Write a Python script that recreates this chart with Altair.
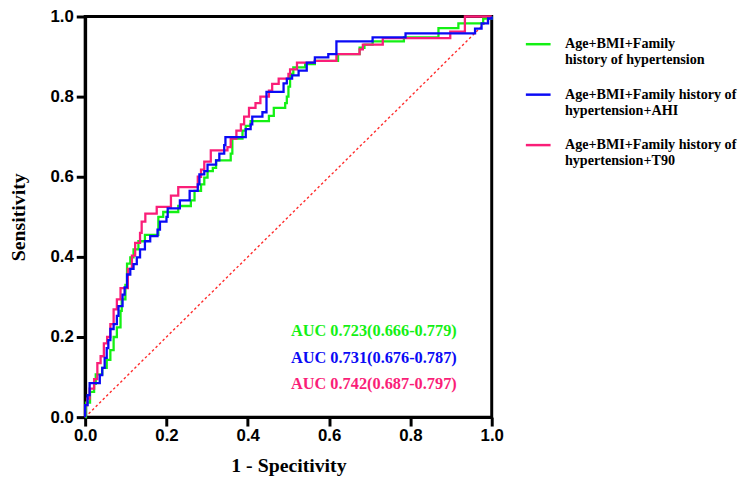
import altair as alt
import pandas as pd

# ---- data -------------------------------------------------------------
models = [
    "Age+BMI+Family|history of hypertension",
    "Age+BMI+Family history of|hypertension+AHI",
    "Age+BMI+Family history of|hypertension+T90",
]
colors = ["#14F014", "#0A0AF5", "#FA1E78"]
auc_labels = [
    "AUC 0.723(0.666-0.779)",
    "AUC 0.731(0.676-0.787)",
    "AUC 0.742(0.687-0.797)",
]

green_fpr = [0, 0.002, 0.012, 0.022, 0.026, 0.042, 0.053, 0.062, 0.070, 0.078, 0.087, 0.090,
             0.099, 0.103, 0.111, 0.119, 0.131, 0.147, 0.180, 0.192, 0.229, 0.260, 0.269, 0.285,
             0.293, 0.301, 0.314, 0.322, 0.358, 0.362, 0.387, 0.395, 0.407, 0.452, 0.464, 0.492,
             0.496, 0.500, 0.504, 0.512, 0.541, 0.565, 0.622, 0.675, 0.687, 0.707, 0.784, 0.869,
             0.918, 0.979, 1.0]
green_tpr = [0, 0.036, 0.063, 0.083, 0.107, 0.123, 0.143, 0.167, 0.200, 0.224, 0.265, 0.294,
             0.330, 0.383, 0.399, 0.419, 0.439, 0.455, 0.500, 0.512, 0.527, 0.541, 0.565, 0.581,
             0.598, 0.614, 0.622, 0.641, 0.658, 0.695, 0.715, 0.727, 0.739, 0.752, 0.772, 0.784,
             0.800, 0.825, 0.857, 0.873, 0.881, 0.889, 0.906, 0.922, 0.930, 0.938, 0.948, 0.971,
             0.983, 0.995, 1.0]

blue_fpr = [0, 0, 0.006, 0.011, 0.036, 0.042, 0.048, 0.053, 0.057, 0.062, 0.070, 0.078, 0.082,
            0.092, 0.097, 0.103, 0.111, 0.119, 0.127, 0.135, 0.147, 0.160, 0.178, 0.184, 0.200,
            0.203, 0.233, 0.257, 0.277, 0.281, 0.293, 0.301, 0.322, 0.330, 0.342, 0.345, 0.395,
            0.407, 0.411, 0.436, 0.446, 0.488, 0.496, 0.509, 0.525, 0.545, 0.565, 0.598, 0.618,
            0.707, 0.788, 0.959, 0.975, 0.991, 1.0]
blue_tpr = [0, 0.030, 0.055, 0.085, 0.105, 0.123, 0.148, 0.172, 0.192, 0.220, 0.232, 0.253, 0.277,
            0.306, 0.324, 0.356, 0.370, 0.382, 0.399, 0.419, 0.439, 0.452, 0.468, 0.488, 0.500,
            0.521, 0.541, 0.565, 0.581, 0.606, 0.614, 0.630, 0.641, 0.658, 0.679, 0.699, 0.719,
            0.731, 0.750, 0.761, 0.812, 0.833, 0.845, 0.853, 0.865, 0.885, 0.898, 0.906, 0.938,
            0.948, 0.958, 0.970, 0.983, 0.995, 1.0]

pink_fpr = [0, 0, 0.005, 0.011, 0.022, 0.030, 0.038, 0.046, 0.054, 0.062, 0.070, 0.078, 0.087,
            0.105, 0.115, 0.123, 0.135, 0.139, 0.148, 0.176, 0.211, 0.229, 0.277, 0.285, 0.293,
            0.309, 0.350, 0.358, 0.372, 0.383, 0.391, 0.403, 0.419, 0.431, 0.452, 0.460, 0.476,
            0.500, 0.504, 0.521, 0.565, 0.618, 0.675, 0.683, 0.732, 0.898, 0.934, 1.0]
pink_tpr = [0, 0.030, 0.046, 0.071, 0.095, 0.135, 0.152, 0.184, 0.200, 0.232, 0.269, 0.294, 0.322,
            0.370, 0.403, 0.435, 0.460, 0.488, 0.508, 0.525, 0.553, 0.574, 0.600, 0.618, 0.638,
            0.666, 0.674, 0.695, 0.715, 0.731, 0.750, 0.772, 0.784, 0.800, 0.815, 0.832, 0.845,
            0.857, 0.868, 0.885, 0.889, 0.906, 0.918, 0.930, 0.946, 0.962, 1.0, 1.0]

ref_x = [0, 1]
ref_y = [0, 1]
ticks = [0, 0.2, 0.4, 0.6, 0.8, 1.0]


def frame(name, fpr, tpr):
    return pd.DataFrame({"model": name, "fpr": fpr, "tpr": tpr, "idx": range(len(fpr))})


curves = [
    frame(models[0], green_fpr, green_tpr),
    frame(models[2], pink_fpr, pink_tpr),
    frame(models[1], blue_fpr, blue_tpr),
]

# ---- chart ------------------------------------------------------------
serif = "Liberation Serif"
sans = "Liberation Sans"

common_axis = dict(
    values=ticks, format=".1f", grid=False, labelFlush=False, labelOverlap=False,
    domainColor="black", domainWidth=3, tickColor="black", tickWidth=3, tickSize=9,
    labelFont=sans, labelFontWeight="bold", labelFontSize=17, labelColor="black",
    titleFont=serif, titleFontWeight="bold", titleFontSize=20, titleColor="black",
)

x_enc = alt.X("fpr:Q", scale=alt.Scale(domain=[0, 1], nice=False),
              axis=alt.Axis(title="1 - Specitivity", labelPadding=2, titlePadding=12, **common_axis))
y_enc = alt.Y("tpr:Q", scale=alt.Scale(domain=[0, 1], nice=False),
              axis=alt.Axis(title="Sensitivity", labelPadding=3, titlePadding=22, **common_axis))

color_enc = alt.Color(
    "model:N",
    scale=alt.Scale(domain=models, range=colors),
    legend=alt.Legend(
        title=None, orient="none", legendX=444, legendY=14, padding=0,
        symbolType="stroke", symbolSize=625, symbolStrokeWidth=2.5,
        labelFont=serif, labelFontWeight="bold", labelFontSize=14.3, labelColor="black",
        labelOffset=13, rowPadding=13, labelLimit=400,
        labelExpr="split(datum.label, '|')",
    ),
)

diag = alt.Chart(pd.DataFrame({"fpr": ref_x, "tpr": ref_y})).mark_line(
    color="#FF2A2A", strokeWidth=1.4, strokeDash=[2.5, 2.5]
).encode(x=x_enc, y=y_enc)

layers = [diag]
for df in curves:
    layers.append(
        alt.Chart(df).mark_line(strokeWidth=2.3, interpolate="step-after").encode(
            x=x_enc, y=y_enc, color=color_enc, order="idx:Q"
        )
    )

text_y = [318, 345, 372]
for i in range(3):
    layers.append(
        alt.Chart(pd.DataFrame({"t": [auc_labels[i]]})).mark_text(
            align="left", baseline="middle", font=serif, fontWeight="bold",
            fontSize=16.5, color=colors[i]
        ).encode(text="t:N", x=alt.value(208), y=alt.value(text_y[i]))
    )

chart = alt.layer(*layers).properties(
    width=411, height=405,
    autosize=alt.AutoSizeParams(type="none"),
    padding={"left": 78, "top": 6, "right": 253, "bottom": 65},
).configure_view(stroke="black", strokeWidth=3)

chart.save("out.html", embed_options={"renderer": "svg", "actions": False})
